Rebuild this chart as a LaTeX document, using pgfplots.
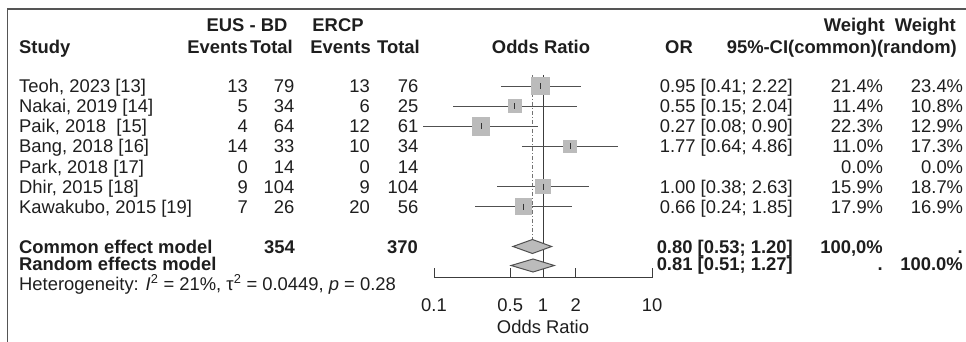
\documentclass[border=0pt]{standalone}
\usepackage{pgfplots}
\pgfplotsset{compat=1.18}
\usepackage{pgfplotstable}
\usepackage{fontspec}
\setmainfont{Liberation Sans}
\definecolor{ciline}{HTML}{505050}
\definecolor{sqfill}{HTML}{BBBBBB}
\definecolor{axline}{HTML}{3C3C3C}
\definecolor{txt}{HTML}{1E1E1E}
\definecolor{frame}{HTML}{555555}
\newcommand{\fs}{\fontsize{18.4}{20}\selectfont}
\tikzset{t/.style={font=\fs, inner sep=0pt, text=txt},
         tb/.style={font=\fs\bfseries, inner sep=0pt, text=txt}}

\pgfplotstableread{
or   y       ms
0.95 -86.2   8.5
0.55 -106.3  6.2
0.27 -126.3  8.7
1.77 -146.4  6.1
1.00 -186.6  7.3
0.66 -206.6  7.8
}\studies

\begin{document}
\begin{tikzpicture}
% ---------------- text layer (pixel coordinates) ----------------
\begin{axis}[at={(0pt,0pt)}, anchor=south west, width=966pt, height=342pt,
  scale only axis, xmin=0, xmax=966, ymin=0, ymax=342, y dir=reverse,
  hide axis, clip=false]
\draw[frame, line width=1.5pt] (axis cs:7.5,342) -- (axis cs:7.5,9.2) -- (axis cs:966,9.2);
% header row 1
\node[tb, anchor=base] at (axis cs:247,31.7) {EUS - BD};
\node[tb, anchor=base] at (axis cs:338,31.7) {ERCP};
\node[tb, anchor=base east] at (axis cs:885,31.7) {Weight};
\node[tb, anchor=base east] at (axis cs:956,31.7) {Weight};
% header row 2
\node[tb, anchor=base west] at (axis cs:19,53.3) {Study};
\node[tb, anchor=base east] at (axis cs:248,53.3) {Events};
\node[tb, anchor=base east] at (axis cs:293,53.3) {Total};
\node[tb, anchor=base east] at (axis cs:371,53.3) {Events};
\node[tb, anchor=base east] at (axis cs:420,53.3) {Total};
\node[tb, anchor=base] at (axis cs:541,53.3) {Odds Ratio};
\node[tb, anchor=base] at (axis cs:679,53.3) {OR};
\node[tb, anchor=base east] at (axis cs:957,53.3) {95\%-CI(common)(random)};
% study rows
\node[t, anchor=base west] at (axis cs:19,92.8) {Teoh, 2023 [13]};
\node[t, anchor=base east] at (axis cs:248,92.8) {13};
\node[t, anchor=base east] at (axis cs:294.5,92.8) {79};
\node[t, anchor=base east] at (axis cs:370,92.8) {13};
\node[t, anchor=base east] at (axis cs:418.5,92.8) {76};
\node[t, anchor=base east] at (axis cs:793,92.8) {0.95 [0.41; 2.22]};
\node[t, anchor=base east] at (axis cs:883.3,92.8) {21.4\%};
\node[t, anchor=base east] at (axis cs:963.3,92.8) {23.4\%};

\node[t, anchor=base west] at (axis cs:19,112.9) {Nakai, 2019 [14]};
\node[t, anchor=base east] at (axis cs:248,112.9) {5};
\node[t, anchor=base east] at (axis cs:294.5,112.9) {34};
\node[t, anchor=base east] at (axis cs:370,112.9) {6};
\node[t, anchor=base east] at (axis cs:418.5,112.9) {25};
\node[t, anchor=base east] at (axis cs:793,112.9) {0.55 [0.15; 2.04]};
\node[t, anchor=base east] at (axis cs:883.3,112.9) {11.4\%};
\node[t, anchor=base east] at (axis cs:963.3,112.9) {10.8\%};

\node[t, anchor=base west] at (axis cs:19,132.9) {Paik, 2018\ \ [15]};
\node[t, anchor=base east] at (axis cs:248,132.9) {4};
\node[t, anchor=base east] at (axis cs:294.5,132.9) {64};
\node[t, anchor=base east] at (axis cs:370,132.9) {12};
\node[t, anchor=base east] at (axis cs:418.5,132.9) {61};
\node[t, anchor=base east] at (axis cs:793,132.9) {0.27 [0.08; 0.90]};
\node[t, anchor=base east] at (axis cs:883.3,132.9) {22.3\%};
\node[t, anchor=base east] at (axis cs:963.3,132.9) {12.9\%};

\node[t, anchor=base west] at (axis cs:19,153.0) {Bang, 2018 [16]};
\node[t, anchor=base east] at (axis cs:248,153.0) {14};
\node[t, anchor=base east] at (axis cs:294.5,153.0) {33};
\node[t, anchor=base east] at (axis cs:370,153.0) {10};
\node[t, anchor=base east] at (axis cs:418.5,153.0) {34};
\node[t, anchor=base east] at (axis cs:793,153.0) {1.77 [0.64; 4.86]};
\node[t, anchor=base east] at (axis cs:883.3,153.0) {11.0\%};
\node[t, anchor=base east] at (axis cs:963.3,153.0) {17.3\%};

\node[t, anchor=base west] at (axis cs:19,173.1) {Park, 2018 [17]};
\node[t, anchor=base east] at (axis cs:248,173.1) {0};
\node[t, anchor=base east] at (axis cs:294.5,173.1) {14};
\node[t, anchor=base east] at (axis cs:370,173.1) {0};
\node[t, anchor=base east] at (axis cs:418.5,173.1) {14};
\node[t, anchor=base east] at (axis cs:883.3,173.1) {0.0\%};
\node[t, anchor=base east] at (axis cs:963.3,173.1) {0.0\%};

\node[t, anchor=base west] at (axis cs:19,193.2) {Dhir, 2015 [18]};
\node[t, anchor=base east] at (axis cs:248,193.2) {9};
\node[t, anchor=base east] at (axis cs:294.5,193.2) {104};
\node[t, anchor=base east] at (axis cs:370,193.2) {9};
\node[t, anchor=base east] at (axis cs:418.5,193.2) {104};
\node[t, anchor=base east] at (axis cs:793,193.2) {1.00 [0.38; 2.63]};
\node[t, anchor=base east] at (axis cs:883.3,193.2) {15.9\%};
\node[t, anchor=base east] at (axis cs:963.3,193.2) {18.7\%};

\node[t, anchor=base west] at (axis cs:19,213.2) {Kawakubo, 2015 [19]};
\node[t, anchor=base east] at (axis cs:248,213.2) {7};
\node[t, anchor=base east] at (axis cs:294.5,213.2) {26};
\node[t, anchor=base east] at (axis cs:370,213.2) {20};
\node[t, anchor=base east] at (axis cs:418.5,213.2) {56};
\node[t, anchor=base east] at (axis cs:793,213.2) {0.66 [0.24; 1.85]};
\node[t, anchor=base east] at (axis cs:883.3,213.2) {17.9\%};
\node[t, anchor=base east] at (axis cs:963.3,213.2) {16.9\%};
% summary rows
\node[tb, anchor=base west] at (axis cs:19,253.1) {Common effect model};
\node[tb, anchor=base east] at (axis cs:295,253.1) {354};
\node[tb, anchor=base east] at (axis cs:418,253.1) {370};
\node[tb, anchor=base east] at (axis cs:793,253.1) {0.80 [0.53; 1.20]};
\node[tb, anchor=base east] at (axis cs:883,253.1) {100,0\%};
\node[tb, anchor=base east] at (axis cs:963,253.1) {.};

\node[tb, anchor=base west] at (axis cs:19,270.3) {Random effects model};
\node[tb, anchor=base east] at (axis cs:793,270.3) {0.81 [0.51; 1.27]};
\node[tb, anchor=base east] at (axis cs:883,270.3) {.};
\node[tb, anchor=base east] at (axis cs:963,270.3) {100.0\%};

\node[t, anchor=base west] at (axis cs:19,290) {Heterogeneity: \textit{I}\textsuperscript{2} = 21\%, τ\textsuperscript{2} = 0.0449, \textit{p} = 0.28};
\node[t, anchor=base] at (axis cs:543,333) {Odds Ratio};
\end{axis}

% ---------------- forest plot (log axis) ----------------
\begin{axis}[at={(434pt,64.3pt)}, anchor=south west, width=218pt, height=207.7pt,
  scale only axis, xmode=log, xmin=0.1, xmax=10, ymin=-277.7, ymax=-70,
  clip=false, axis x line*=bottom, axis y line=none,
  x axis line style={-, axline, line width=1pt},
  xtick={0.1,0.5,1,2,10}, xticklabels={0.1,0.5,1,2,10}, minor xtick={},
  tick align=inside, major tick length=10pt,
  every tick/.style={axline, line width=1pt},
  xticklabel style={anchor=base, yshift=-34.3pt, font=\fs, inner sep=0pt, text=txt}]
\addplot[axline, line width=1pt] coordinates {(1,-75) (1,-277.7)};
\addplot[black!55, line width=1.1pt, dash pattern=on 4pt off 2pt on 1pt off 2pt] coordinates {(0.80,-75) (0.80,-239.5)};
% confidence intervals
\addplot[ciline, line width=1.1pt] coordinates {(0.41,-86.2) (2.22,-86.2)};
\addplot[ciline, line width=1.1pt] coordinates {(0.15,-106.3) (2.04,-106.3)};
\addplot[ciline, line width=1.1pt] coordinates {(0.08,-126.3) (0.90,-126.3)};
\addplot[ciline, line width=1.1pt] coordinates {(0.64,-146.4) (4.86,-146.4)};
\addplot[ciline, line width=1.1pt] coordinates {(0.38,-186.6) (2.63,-186.6)};
\addplot[ciline, line width=1.1pt] coordinates {(0.24,-206.6) (1.85,-206.6)};
% weight squares
\addplot[only marks, mark=square*, mark size=8.6pt, mark options={fill=sqfill, draw=sqfill, line width=0pt}] coordinates {(0.95,-86.2)};
\addplot[only marks, mark=square*, mark size=6.3pt, mark options={fill=sqfill, draw=sqfill, line width=0pt}] coordinates {(0.55,-106.3)};
\addplot[only marks, mark=square*, mark size=8.8pt, mark options={fill=sqfill, draw=sqfill, line width=0pt}] coordinates {(0.27,-126.3)};
\addplot[only marks, mark=square*, mark size=6.2pt, mark options={fill=sqfill, draw=sqfill, line width=0pt}] coordinates {(1.77,-146.4)};
\addplot[only marks, mark=square*, mark size=7.4pt, mark options={fill=sqfill, draw=sqfill, line width=0pt}] coordinates {(1.00,-186.6)};
\addplot[only marks, mark=square*, mark size=7.9pt, mark options={fill=sqfill, draw=sqfill, line width=0pt}] coordinates {(0.66,-206.6)};
% point estimates
\addplot[only marks, mark=|, mark size=3pt, mark options={draw=black!80, line width=1pt}] table[x=or, y=y] {\studies};
% summary diamonds
\addplot[fill=sqfill, draw=ciline, line width=1pt] coordinates {(0.53,-246.5) (0.80,-239.5) (1.20,-246.5) (0.80,-253.5)} -- cycle;
\addplot[fill=sqfill, draw=ciline, line width=1pt] coordinates {(0.51,-265.5) (0.81,-259) (1.27,-265.5) (0.81,-272)} -- cycle;
\end{axis}
\pgfresetboundingbox
\path[use as bounding box] (0pt,0pt) rectangle (966pt,342pt);
\end{tikzpicture}
\end{document}
